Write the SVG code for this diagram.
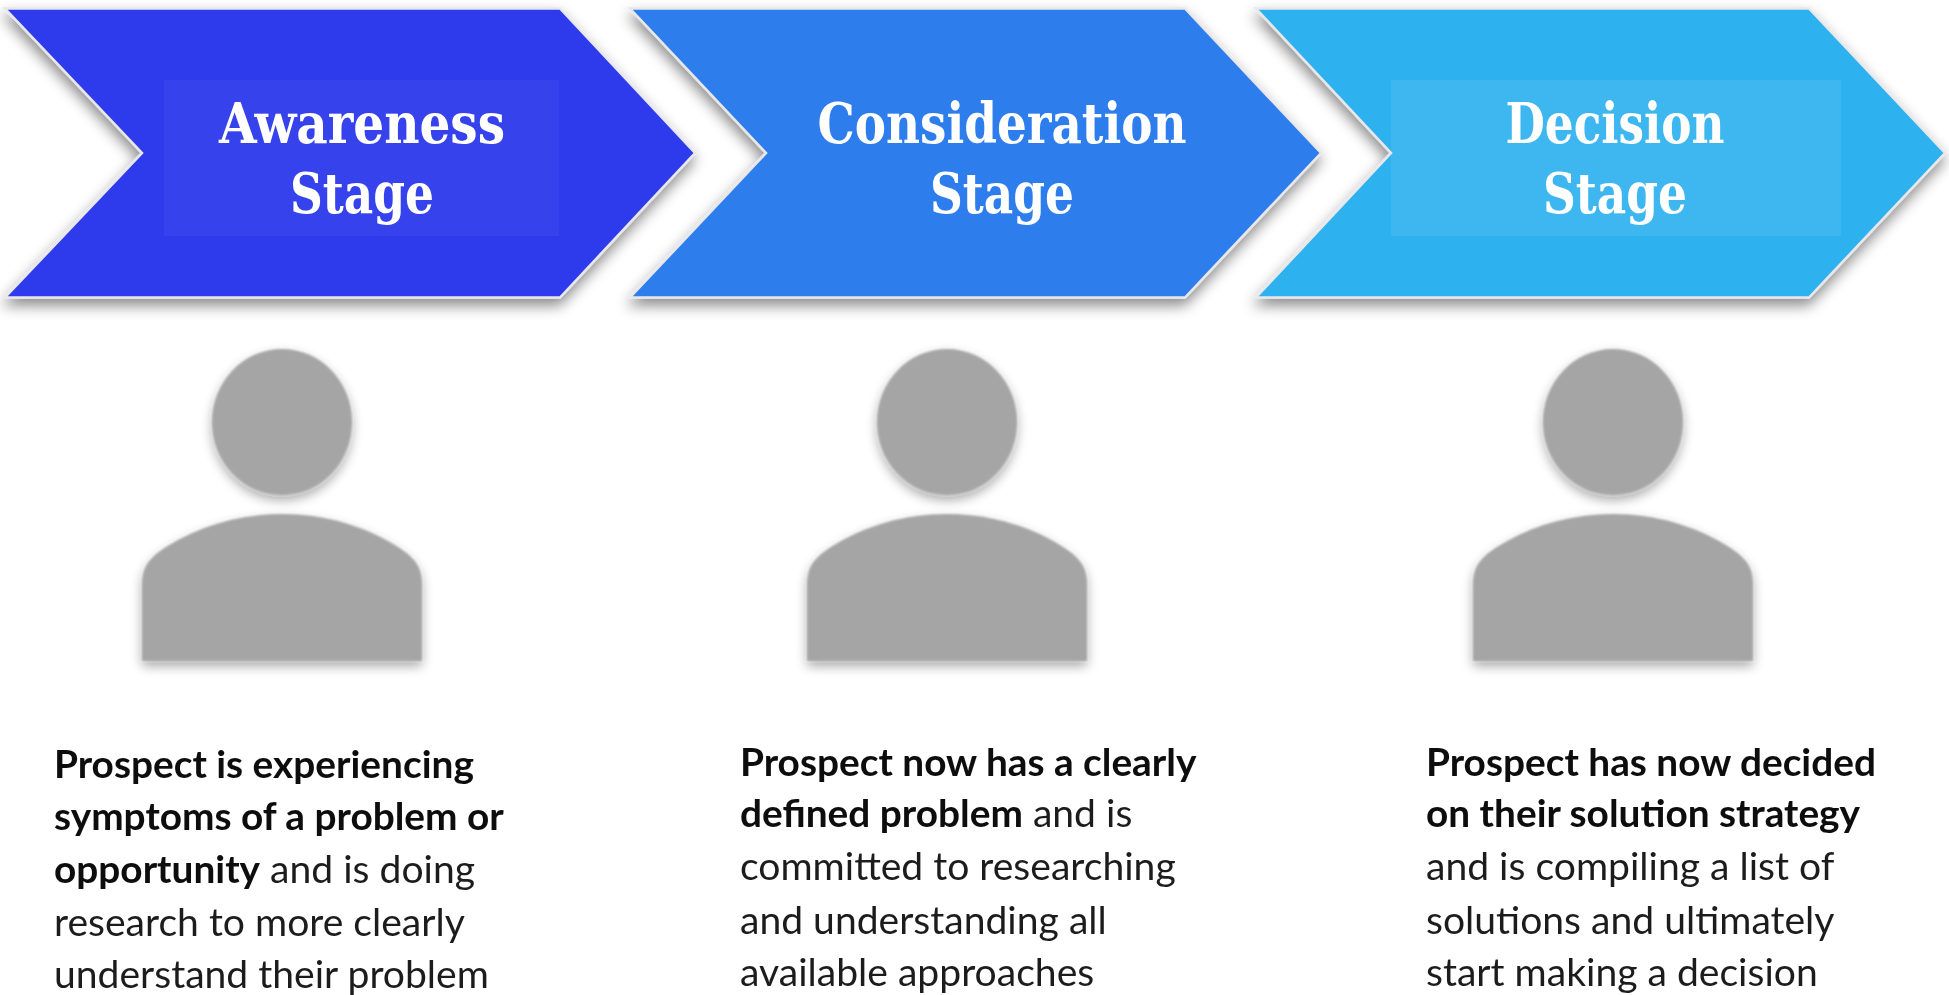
<svg xmlns="http://www.w3.org/2000/svg" width="1949" height="995" viewBox="0 0 1949 995">
<style>
.ch{stroke:#e8e8ec;stroke-width:2.5;filter:url(#sh)}
.in{fill:#fff}
.h{font-family:"DejaVu Serif Condensed","DejaVu Serif",serif;font-weight:700;font-size:56px;fill:#fff;text-anchor:middle;filter:url(#soft)}
.b{font-family:Lato,"Noto Sans",sans-serif;font-size:39.1px;fill:#1f1f1f;filter:url(#soft)}
.bb{font-weight:700;font-size:38.8px;fill:#0d0d0d}
.p{fill:#a5a5a5;filter:url(#ps)}
</style>
<defs>
<filter id="soft" x="-5%" y="-20%" width="110%" height="140%"><feGaussianBlur stdDeviation="0.6"/></filter>
<filter id="sh" x="-5%" y="-8%" width="110%" height="125%"><feDropShadow dx="-1" dy="7" stdDeviation="7" flood-color="#000" flood-opacity=".45"/></filter>
<filter id="ps" x="-15%" y="-15%" width="130%" height="130%"><feGaussianBlur in="SourceAlpha" stdDeviation="6"/><feOffset dy="5"/><feComponentTransfer result="s"><feFuncA type="linear" slope=".35"/></feComponentTransfer><feGaussianBlur in="SourceGraphic" stdDeviation="0.8" result="g"/><feMerge><feMergeNode in="s"/><feMergeNode in="g"/></feMerge></filter>
<g id="person"><ellipse class="p" cx="281" cy="422" rx="70" ry="73"/><path class="p" d="M141 661V585C141 565 150 557 165 547C200 525 240 514 281 514C322 514 362 525 397 547C412 557 421 565 421 585V661Z"/></g>
</defs>
<rect width="1949" height="995" fill="#fff"/>
<g id="stage-awareness">
<path class="ch" fill="#2f3aec" d="M5 8.500H560L695 153L560 297.500H5L142 153Z"/>
<rect class="in" fill-opacity=".04" x="164" y="80" width="395" height="156"/>
<text class="h" x="362" y="143" textLength="286" lengthAdjust="spacingAndGlyphs">Awareness</text>
<text class="h" x="362" y="213" textLength="144" lengthAdjust="spacingAndGlyphs">Stage</text>
</g>
<g id="stage-consideration">
<path class="ch" fill="#2f7dec" d="M630 8.500H1185L1321 153L1185 297.500H630L766 153Z"/>
<text class="h" x="1002" y="143" textLength="369" lengthAdjust="spacingAndGlyphs">Consideration</text>
<text class="h" x="1002" y="213" textLength="144" lengthAdjust="spacingAndGlyphs">Stage</text>
</g>
<g id="stage-decision">
<path class="ch" fill="#2fb1ef" d="M1256 8.500H1809L1945 153L1809 297.500H1256L1391 153Z"/>
<rect class="in" fill-opacity=".08" x="1391" y="80" width="450" height="156"/>
<text class="h" x="1615" y="143" textLength="219" lengthAdjust="spacingAndGlyphs">Decision</text>
<text class="h" x="1615" y="213" textLength="144" lengthAdjust="spacingAndGlyphs">Stage</text>
</g>
<g id="person-1"><use href="#person" x="1"/></g>
<g id="person-2"><use href="#person" x="666"/></g>
<g id="person-3"><use href="#person" x="1332"/></g>
<g id="text-1">
<text class="b" x="54" y="778"><tspan class="bb">Prospect is experiencing</tspan></text>
<text class="b" x="54" y="830"><tspan class="bb">symptoms of a problem or</tspan></text>
<text class="b" x="54" y="883"><tspan class="bb">opportunity</tspan> and is doing</text>
<text class="b" x="54" y="936">research to more clearly</text>
<text class="b" x="54" y="988">understand their problem</text>
</g>
<g id="text-2">
<text class="b" x="740" y="776"><tspan class="bb">Prospect now has a clearly</tspan></text>
<text class="b" x="740" y="827"><tspan class="bb">defined problem</tspan> and is</text>
<text class="b" x="740" y="880">committed to researching</text>
<text class="b" x="740" y="934">and understanding all</text>
<text class="b" x="740" y="986">available approaches</text>
</g>
<g id="text-3">
<text class="b" x="1426" y="776"><tspan class="bb">Prospect has now decided</tspan></text>
<text class="b" x="1426" y="827"><tspan class="bb">on their solution strategy</tspan></text>
<text class="b" x="1426" y="880">and is compiling a list of</text>
<text class="b" x="1426" y="934">solutions and ultimately</text>
<text class="b" x="1426" y="986">start making a decision</text>
</g>
</svg>
